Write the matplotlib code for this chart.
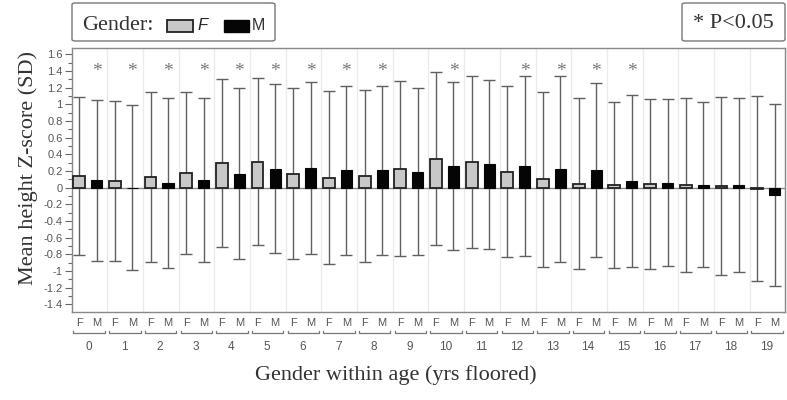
import numpy as np
import matplotlib.pyplot as plt
import matplotlib.transforms as mtransforms
from matplotlib.patches import FancyBboxPatch, Rectangle
from matplotlib.ticker import MultipleLocator, FuncFormatter

# values (mean z-score and SD per age / gender)
ages = list(range(20))
f_mean = [0.14, 0.08, 0.13, 0.18, 0.30, 0.31, 0.17, 0.12, 0.14, 0.23,
          0.35, 0.31, 0.19, 0.10, 0.05, 0.03, 0.04, 0.035, 0.02, -0.01]
m_mean = [0.09, 0.00, 0.06, 0.09, 0.17, 0.23, 0.24, 0.21, 0.21, 0.19,
          0.26, 0.28, 0.26, 0.22, 0.21, 0.08, 0.06, 0.035, 0.03, -0.09]
f_sd = [0.95, 0.955, 1.02, 0.97, 1.005, 1.00, 1.03, 1.035, 1.035, 1.045,
        1.035, 1.035, 1.025, 1.045, 1.02, 0.995, 1.02, 1.04, 1.065, 1.105]
m_sd = [0.965, 0.99, 1.02, 0.98, 1.025, 1.015, 1.03, 1.015, 1.015, 1.00,
        1.01, 1.015, 1.075, 1.115, 1.045, 1.03, 1.00, 0.99, 1.045, 1.09]
signif = [1, 1, 1, 1, 1, 1, 1, 1, 1, 0, 1, 0, 1, 1, 1, 1, 0, 0, 0, 0]

serif = "Liberation Serif"
sans = "Liberation Sans"
plt.rcParams["font.family"] = sans

fig = plt.figure(figsize=(7.87, 4.0), dpi=100)
ax = fig.add_axes([0.0911, 0.22, 0.9067, 0.661])

x = np.arange(len(ages))
xf = x - 0.29
xm = x + 0.20

ax.errorbar(xf, f_mean, yerr=f_sd, fmt="none", ecolor="#606060",
            elinewidth=1, capsize=4.5, capthick=1, zorder=2)
ax.errorbar(xm, m_mean, yerr=m_sd, fmt="none", ecolor="#606060",
            elinewidth=1, capsize=4.5, capthick=1, zorder=2)
ax.bar(xf, f_mean, width=0.33, color="#c8c8c8", edgecolor="#222222",
       linewidth=1.3, zorder=3)
ax.bar(xm, m_mean, width=0.31, color="#050505", edgecolor="#050505",
       linewidth=0.8, zorder=3)
ax.axhline(0, color="#8a8a8a", lw=1, zorder=2.5)
for i in range(1, len(ages)):
    ax.axvline(i - 0.5, color="#ebebeb", lw=1, zorder=0)

for i, s in enumerate(signif):
    if s:
        ax.text(xm[i], 1.39, "*", ha="center", va="center", fontsize=14,
                color="#777777", family=serif)

ax.set_xlim(-0.5, 19.5)
ax.set_ylim(-1.49, 1.68)
ax.yaxis.set_major_locator(MultipleLocator(0.2))
ax.yaxis.set_minor_locator(MultipleLocator(0.1))
ax.yaxis.set_major_formatter(FuncFormatter(lambda v, p: "%g" % (round(v, 1) + 0.0)))
ax.tick_params(axis="y", which="major", length=5, width=0.8, color="#666666",
               labelsize=8, labelcolor="#555555", pad=1.5)
ax.tick_params(axis="y", which="minor", length=3, width=0.8, color="#666666")

ax.set_xticks(np.concatenate([xf, xm]))
ax.set_xticklabels(["F"] * len(ages) + ["M"] * len(ages))
ax.tick_params(axis="x", length=0, labelsize=8, labelcolor="#555555", pad=4)

for sp in ax.spines.values():
    sp.set_color("#888888")
    sp.set_linewidth(1)

# brackets and age labels under the F / M pairs
trans = mtransforms.blended_transform_factory(ax.transData, ax.transAxes)
for i, a in enumerate(ages):
    ax.plot([i - 0.45, i - 0.45, i + 0.43, i + 0.43], [-0.07, -0.081, -0.081, -0.07],
            transform=trans, clip_on=False, color="#777777", lw=0.9)
    ax.text(i - 0.03, -0.133, str(a), transform=trans, ha="center", va="center",
            fontsize=8.5, color="#555555")

fig.text(0.503, 0.0625, "Gender within age (yrs floored)", ha="center", va="center",
         family=serif, fontsize=16, color="#333333")
fig.text(0.036, 0.58, "Mean height Z-score (SD)", ha="center", va="center",
         rotation=90, family=serif, fontsize=16, color="#333333")

# legend box
fig.add_artist(FancyBboxPatch((72 / 787, 1 - 41 / 400), 203 / 787, 38 / 400,
                              boxstyle="round,pad=0,rounding_size=0.004",
                              transform=fig.transFigure, facecolor="white",
                              edgecolor="#777777", lw=1))
fig.text(82 / 787, 1 - 25 / 400, "Gender:", ha="left", va="center",
         family=serif, fontsize=16, color="#333333")
fig.add_artist(Rectangle((167 / 787, 1 - 32 / 400), 26 / 787, 12 / 400,
                         transform=fig.transFigure, facecolor="#c8c8c8",
                         edgecolor="#222222", lw=1.3))
fig.text(197 / 787, 1 - 26 / 400, "F", ha="left", va="center", style="italic",
         fontsize=12, color="#222222")
fig.add_artist(Rectangle((224 / 787, 1 - 32 / 400), 25 / 787, 12 / 400,
                         transform=fig.transFigure, facecolor="#050505",
                         edgecolor="#050505", lw=1))
fig.text(252 / 787, 1 - 26 / 400, "M", ha="left", va="center",
         fontsize=11.5, color="#333333")

# significance note
fig.add_artist(FancyBboxPatch((682 / 787, 1 - 41 / 400), 103 / 787, 38 / 400,
                              boxstyle="round,pad=0,rounding_size=0.004",
                              transform=fig.transFigure, facecolor="white",
                              edgecolor="#777777", lw=1))
fig.text(733 / 787, 1 - 24 / 400, "* P<0.05", ha="center", va="center",
         family=serif, fontsize=16, color="#333333")

fig.savefig("out.png", dpi=100)
